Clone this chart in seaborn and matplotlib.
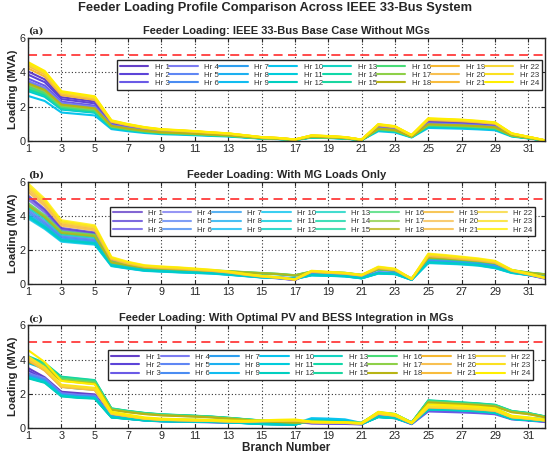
import pandas as pd
import seaborn as sns
import matplotlib.pyplot as plt

# %%
# data (MVA per branch)
branches = list(range(1, 33))
hours = ['Hr {}'.format(h) for h in range(1, 25)]
hour_group = ['night'] * 3 + ['morning'] * 9 + ['day'] * 6 + ['night'] * 6

# (a) base case: one shape, scaled by hour
a_profile = [4.60, 4.08, 2.90, 2.75, 2.60, 1.20, 0.98, 0.80, 0.68, 0.63, 0.57, 0.50,
             0.44, 0.33, 0.22, 0.17, 0.08, 0.32, 0.28, 0.22, 0.07, 0.98, 0.86, 0.34,
             1.32, 1.28, 1.24, 1.17, 1.08, 0.44, 0.24, 0.03]
a_factor = [0.88, 0.84, 0.79, 0.76, 0.74, 0.72, 0.70, 0.67, 0.65, 0.57, 0.63, 0.64,
            0.65, 0.66, 0.67, 0.68, 0.71, 0.73, 0.92, 0.95, 0.96, 0.97, 0.98, 1.00]

# (b) with MG loads only
b_night = [5.90, 5.00, 3.75, 3.60, 3.45, 1.60, 1.32, 1.12, 1.05, 1.00, 0.93, 0.86,
           0.76, 0.62, 0.50, 0.42, 0.30, 0.80, 0.74, 0.68, 0.56, 1.04, 0.92, 0.33,
           1.80, 1.72, 1.62, 1.52, 1.38, 0.86, 0.64, 0.40]
b_morning = [4.40, 3.70, 2.85, 2.75, 2.65, 1.22, 1.05, 0.90, 0.85, 0.80, 0.76, 0.72,
             0.64, 0.55, 0.46, 0.42, 0.36, 0.60, 0.57, 0.53, 0.40, 0.72, 0.68, 0.30,
             1.42, 1.38, 1.33, 1.25, 1.08, 0.76, 0.62, 0.45]
b_day = [4.75, 4.05, 3.10, 3.00, 2.90, 1.32, 1.15, 1.00, 0.95, 0.90, 0.86, 0.82,
         0.78, 0.72, 0.67, 0.62, 0.54, 0.76, 0.72, 0.68, 0.56, 0.92, 0.85, 0.34,
         1.60, 1.55, 1.48, 1.40, 1.28, 0.84, 0.70, 0.60]
b_factor = [0.88, 0.865, 0.84, 1.00, 0.98, 0.96, 0.94, 0.92, 0.90, 0.875, 0.89, 0.91,
            0.94, 0.96, 0.98, 1.00, 0.99, 0.97, 0.915, 0.93, 0.95, 0.966, 0.98, 1.00]

# (c) with optimal PV and BESS
c_night = [4.55, 3.85, 2.75, 2.65, 2.55, 0.95, 0.78, 0.62, 0.55, 0.52, 0.50, 0.47,
           0.44, 0.42, 0.45, 0.48, 0.50, 0.38, 0.36, 0.34, 0.30, 0.95, 0.82, 0.32,
           1.38, 1.34, 1.30, 1.24, 1.15, 0.72, 0.62, 0.50]
c_morning = [3.30, 3.00, 2.10, 2.00, 1.95, 0.70, 0.60, 0.50, 0.45, 0.43, 0.42, 0.40,
             0.37, 0.32, 0.26, 0.24, 0.22, 0.50, 0.48, 0.44, 0.26, 0.72, 0.65, 0.30,
             1.22, 1.20, 1.16, 1.10, 1.00, 0.60, 0.52, 0.46]
c_day = [4.20, 3.80, 3.00, 2.90, 2.80, 1.15, 1.00, 0.88, 0.80, 0.76, 0.72, 0.67,
         0.60, 0.52, 0.44, 0.38, 0.34, 0.38, 0.36, 0.34, 0.30, 0.92, 0.82, 0.32,
         1.62, 1.56, 1.50, 1.44, 1.36, 1.00, 0.88, 0.68]
c_factor = [0.77, 0.74, 0.70, 0.97, 0.95, 0.93, 0.92, 0.90, 0.89, 1.15, 0.90, 0.88,
            0.98, 1.00, 0.99, 0.97, 0.94, 0.92, 0.87, 0.88, 0.89, 0.90, 0.92, 1.00]

hour_colors = ['#6440c8', '#5c44d8', '#6a5ae6', '#7c7cf2', '#5f86f4', '#4a8cf2',
               '#2e9ff0', '#1cb0f0', '#10bcf0', '#08c4ee', '#00ccdc', '#00cfc0',
               '#14d4c4', '#10d8a8', '#1ad6a0', '#48dc78', '#8ed048', '#b8b414',
               '#f6b830', '#f8c050', '#f8bc3c', '#f8d838', '#fbe020', '#ffee00']


def panel_frame(profiles, factors):
    rows = []
    for h, (label, grp) in enumerate(zip(hours, hour_group)):
        for b, v in zip(branches, profiles[grp]):
            rows.append((label, b, v * factors[h]))
    return pd.DataFrame(rows, columns=['hour', 'branch', 'loading'])


panels = [
    ('(a)', 'Feeder Loading: IEEE 33-Bus Base Case Without MGs',
     panel_frame({'night': a_profile, 'morning': a_profile, 'day': a_profile}, a_factor),
     1.0, (0.172, 0.49, 0.822, 0.294)),
    ('(b)', 'Feeder Loading: With MG Loads Only',
     panel_frame({'night': b_night, 'morning': b_morning, 'day': b_day}, b_factor),
     0.8, (0.159, 0.476, 0.822, 0.281)),
    ('(c)', 'Feeder Loading: With Optimal PV and BESS Integration in MGs',
     panel_frame({'night': c_night, 'morning': c_morning, 'day': c_day}, c_factor),
     1.0, (0.155, 0.46, 0.822, 0.295)),
]

# %%
sns.set_theme(style='ticks')
plt.rcParams['font.family'] = ['Liberation Sans', 'DejaVu Sans']
plt.rcParams['axes.edgecolor'] = '#262626'

fig, axes = plt.subplots(3, 1, figsize=(5.5, 4.59), dpi=100)
fig.subplots_adjust(left=0.051, right=0.991, top=0.917, bottom=0.0675, hspace=0.398)

for ax, (tag, title, df, alpha, box) in zip(axes, panels):
    sns.lineplot(data=df, x='branch', y='loading', hue='hour', palette=hour_colors,
                 linewidth=1.5, alpha=alpha, ax=ax, legend=True)
    ax.axhline(5, color='#ff3b3b', ls='--', lw=1.3, dashes=(5, 3))
    ax.set_xlim(1, 32)
    ax.set_ylim(0, 6)
    ax.set_xticks(range(1, 32, 2))
    ax.set_yticks([0, 2, 4, 6])
    ax.grid(True, ls=(0, (1, 2)), color='#303030', lw=0.8)
    ax.tick_params(direction='in', top=True, right=True, length=3, width=0.8,
                   labelsize=7.8, pad=2, colors='#262626')
    for sp in ax.spines.values():
        sp.set_linewidth(1.0)
    ax.set_xlabel('')
    ax.set_ylabel('Loading (MVA)', fontsize=8.2, fontweight='bold', labelpad=1)
    ax.set_title(title, fontsize=8, fontweight='bold', pad=3)
    ax.set_title(tag, loc='left', fontsize=7, fontweight='bold', family='serif', pad=3)

    handles, labels = ax.get_legend_handles_labels()
    leg = ax.legend(handles[:24], labels[:24], ncol=8, loc='upper left',
                    bbox_to_anchor=box, mode='expand', fontsize=5.7,
                    handlelength=3.6, handletextpad=0.8, labelspacing=0.1,
                    borderpad=0.35, borderaxespad=0, fancybox=False,
                    framealpha=1, edgecolor='#262626', facecolor='white')
    leg.get_frame().set_linewidth(1.0)
    for t in leg.get_texts():
        t.set_color('#333333')

axes[-1].set_xlabel('Branch Number', fontsize=8.5, fontweight='bold', labelpad=1)
fig.suptitle('Feeder Loading Profile Comparison Across IEEE 33-Bus System',
             fontsize=9.3, fontweight='bold', y=0.995)

fig.savefig('out.png', dpi=100)
